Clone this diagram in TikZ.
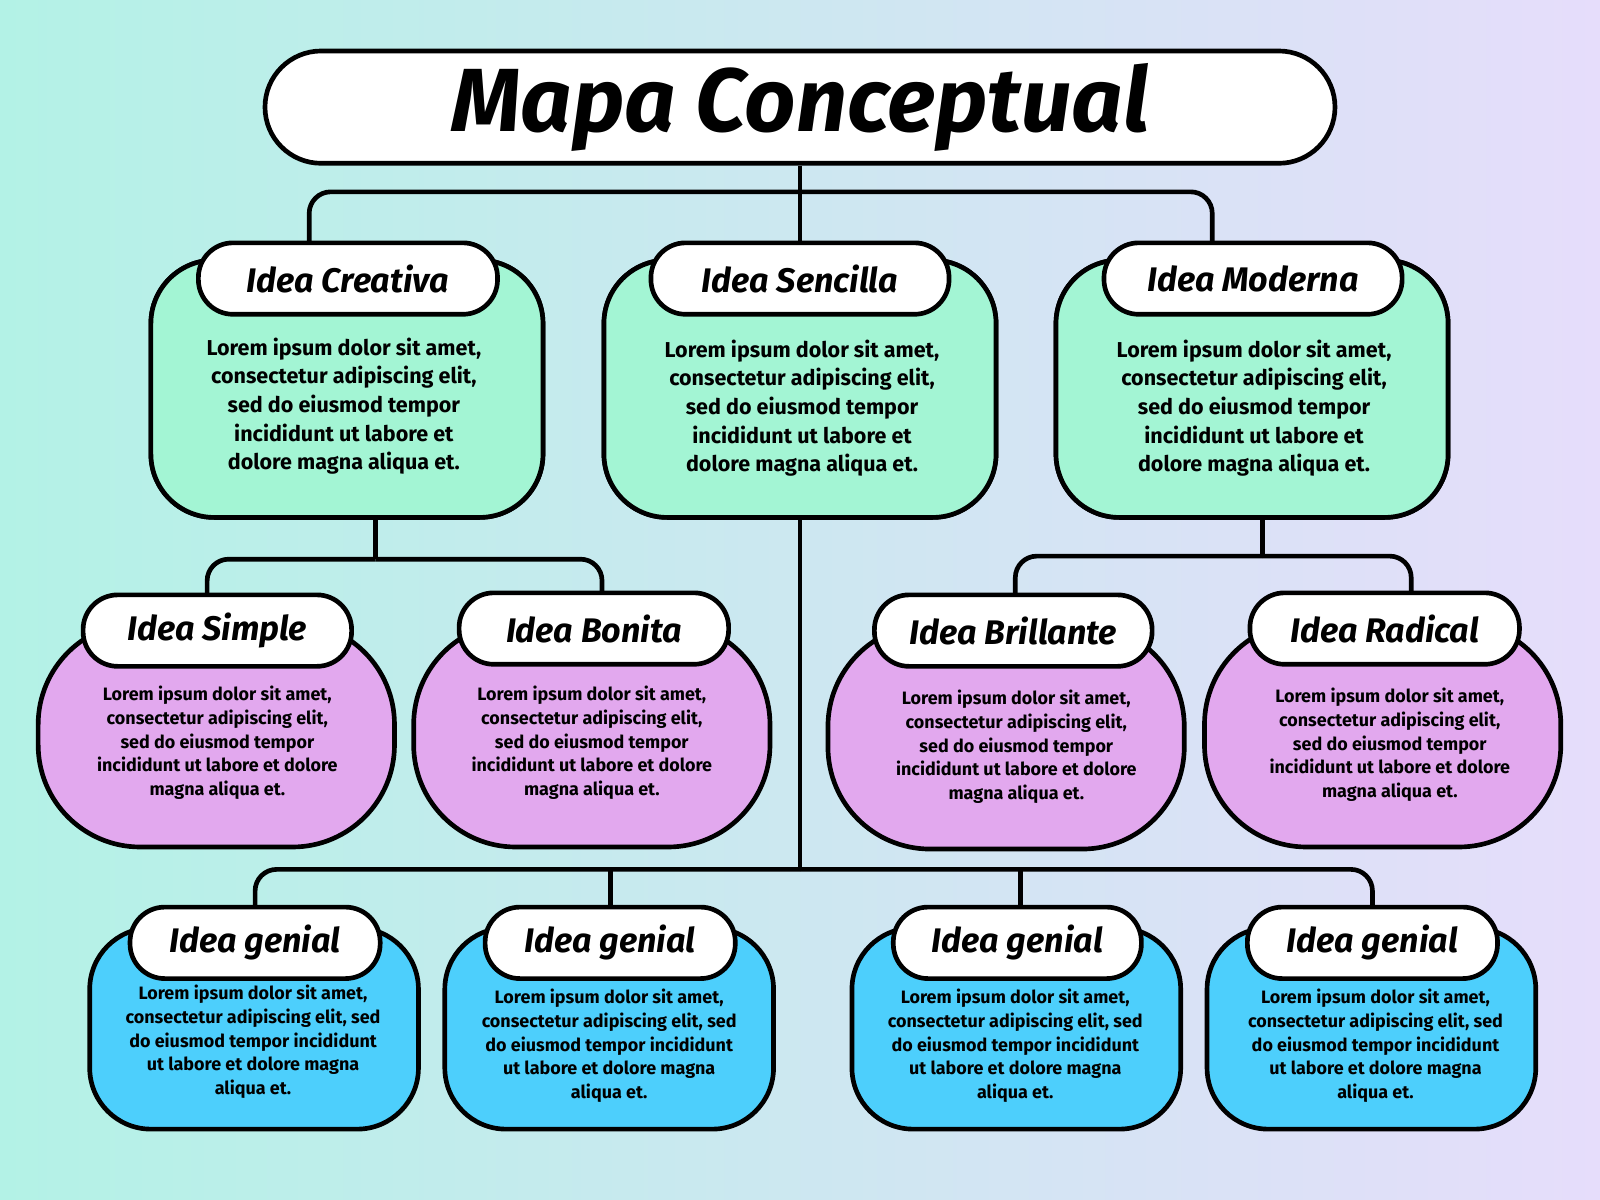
\documentclass[tikz,border=0pt]{standalone}
\usepackage{fontspec}
\setmainfont{Fira Sans}
\begin{document}
\begin{tikzpicture}[x=0.01cm,y=-0.01cm,
  conn/.style={line width=1.3pt,draw=black,rounded corners=6pt},
  bx/.style={draw=black,line width=1.3pt,inner sep=0pt},
  gbox/.style={bx,fill=ggreen,minimum width=3.84cm,minimum height=2.52cm,rounded corners=0.62cm},
  pbox/.style={bx,fill=ppink,minimum width=3.49cm,minimum height=2.2cm,rounded corners=1.0cm},
  bbox/.style={bx,fill=bblue,minimum width=3.22cm,minimum height=1.97cm,rounded corners=0.6cm},
  lab/.style={bx,fill=white,minimum height=0.7cm,rounded corners=0.34cm,font=\fontsize{9.5}{10}\selectfont\bfseries\itshape},
  t1/.style={align=center,font=\fontsize{6}{8}\selectfont\bfseries},
  t2/.style={align=center,font=\fontsize{5}{6.6}\selectfont\bfseries},
]
\definecolor{ggreen}{HTML}{A3F5D4}
\definecolor{ppink}{HTML}{E2A8EE}
\definecolor{bblue}{HTML}{4DCFFC}
\definecolor{bgl}{HTML}{B3F2E6}
\definecolor{bgr}{HTML}{E6DDFB}
\path[left color=bgl,right color=bgr] (0,0) rectangle (1568,1176);
\useasboundingbox (0,0) rectangle (1568,1176);
% title
\node[bx,fill=white,minimum width=10.48cm,minimum height=1.1cm,rounded corners=0.55cm,font=\fontsize{25}{26}\selectfont\bfseries\itshape] (title) at (784,105) {Mapa Conceptual};
% coordinates
\coordinate (j0) at (784,188);
\coordinate (a1) at (303,240);
\coordinate (a2) at (784,240);
\coordinate (a3) at (1188,240);
\coordinate (j1) at (368,548);
\coordinate (s1) at (203,590);
\coordinate (s2) at (590,590);
\coordinate (j3) at (1237,545);
\coordinate (s3) at (995,590);
\coordinate (s4) at (1383,590);
\coordinate (j2) at (784,852);
\coordinate (u1) at (250,900);
\coordinate (u2) at (598,900);
\coordinate (u3) at (1000,900);
\coordinate (u4) at (1345,900);
% connectors
\node[gbox] (b1) at (340,381) {};
\node[gbox] (b2) at (784,381) {};
\node[gbox] (b3) at (1227,381) {};
\draw[conn] (title.south) -- (j0);
\draw[conn] (j0) -| (a1);
\draw[conn] (j0) -| (a3);
\draw[conn] (j0) -- (a2);
\draw[conn] (j1 |- b1.south) -- (j1);
\draw[conn] (j1) -| (s1);
\draw[conn] (j1) -| (s2);
\draw[conn] (j3 |- b3.south) -- (j3);
\draw[conn] (j3) -| (s3);
\draw[conn] (j3) -| (s4);
\draw[conn] (b2.south) -- (j2);
\draw[conn] (j2) -| (u1);
\draw[conn] (j2) -| (u4);
\draw[conn] (j2 -| u2) -- (u2);
\draw[conn] (j2 -| u3) -- (u3);
\node[gbox] at (340,381) {};
\node[gbox] at (784,381) {};
\node[gbox] at (1227,381) {};
% level 1
\node[lab,minimum width=2.93cm] (l1) at (341,273) {Idea Creativa};
\node[lab,minimum width=2.92cm] (l2) at (784,273) {Idea Sencilla};
\node[lab,minimum width=2.92cm] (l3) at (1228,273) {Idea Moderna};
\node[t1] (t1) at (337,398) {Lorem ipsum dolor sit amet,\\consectetur adipiscing elit,\\sed do eiusmod tempor\\incididunt ut labore et\\dolore magna aliqua et.};
\node[t1] (t2) at (786,400) {Lorem ipsum dolor sit amet,\\consectetur adipiscing elit,\\sed do eiusmod tempor\\incididunt ut labore et\\dolore magna aliqua et.};
\node[t1] (t3) at (1229,400) {Lorem ipsum dolor sit amet,\\consectetur adipiscing elit,\\sed do eiusmod tempor\\incididunt ut labore et\\dolore magna aliqua et.};
% level 2
\node[pbox] (p1) at (212,720) {};
\node[pbox] (p2) at (580,720) {};
\node[pbox] (p3) at (986,722) {};
\node[pbox] (p4) at (1355,720) {};
\node[lab,minimum width=2.63cm] (m1) at (213,618) {Idea Simple};
\node[lab,minimum width=2.64cm] (m2) at (582,616) {Idea Bonita};
\node[lab,minimum width=2.72cm] (m3) at (993,618) {Idea Brillante};
\node[lab,minimum width=2.64cm] (m4) at (1357,616) {Idea Radical};
\node[t2] (q1) at (213,728) {Lorem ipsum dolor sit amet,\\consectetur adipiscing elit,\\sed do eiusmod tempor\\incididunt ut labore et dolore\\magna aliqua et.};
\node[t2] (q2) at (580,728) {Lorem ipsum dolor sit amet,\\consectetur adipiscing elit,\\sed do eiusmod tempor\\incididunt ut labore et dolore\\magna aliqua et.};
\node[t2] (q3) at (996,732) {Lorem ipsum dolor sit amet,\\consectetur adipiscing elit,\\sed do eiusmod tempor\\incididunt ut labore et dolore\\magna aliqua et.};
\node[t2] (q4) at (1362,730) {Lorem ipsum dolor sit amet,\\consectetur adipiscing elit,\\sed do eiusmod tempor\\incididunt ut labore et dolore\\magna aliqua et.};
% level 3
\node[bbox] (r1) at (249,1008) {};
\node[bbox] (r2) at (597,1008) {};
\node[bbox] (r3) at (996,1008) {};
\node[bbox] (r4) at (1344,1008) {};
\node[lab,minimum width=2.45cm] (n1) at (250,924) {Idea genial};
\node[lab,minimum width=2.45cm] (n2) at (598,924) {Idea genial};
\node[lab,minimum width=2.43cm] (n3) at (997,924) {Idea genial};
\node[lab,minimum width=2.45cm] (n4) at (1345,924) {Idea genial};
\node[t2] (v1) at (248,1021) {Lorem ipsum dolor sit amet,\\consectetur adipiscing elit, sed\\do eiusmod tempor incididunt\\ut labore et dolore magna\\aliqua et.};
\node[t2] (v2) at (597,1025) {Lorem ipsum dolor sit amet,\\consectetur adipiscing elit, sed\\do eiusmod tempor incididunt\\ut labore et dolore magna\\aliqua et.};
\node[t2] (v3) at (995,1025) {Lorem ipsum dolor sit amet,\\consectetur adipiscing elit, sed\\do eiusmod tempor incididunt\\ut labore et dolore magna\\aliqua et.};
\node[t2] (v4) at (1348,1025) {Lorem ipsum dolor sit amet,\\consectetur adipiscing elit, sed\\do eiusmod tempor incididunt\\ut labore et dolore magna\\aliqua et.};
\end{tikzpicture}
\end{document}
